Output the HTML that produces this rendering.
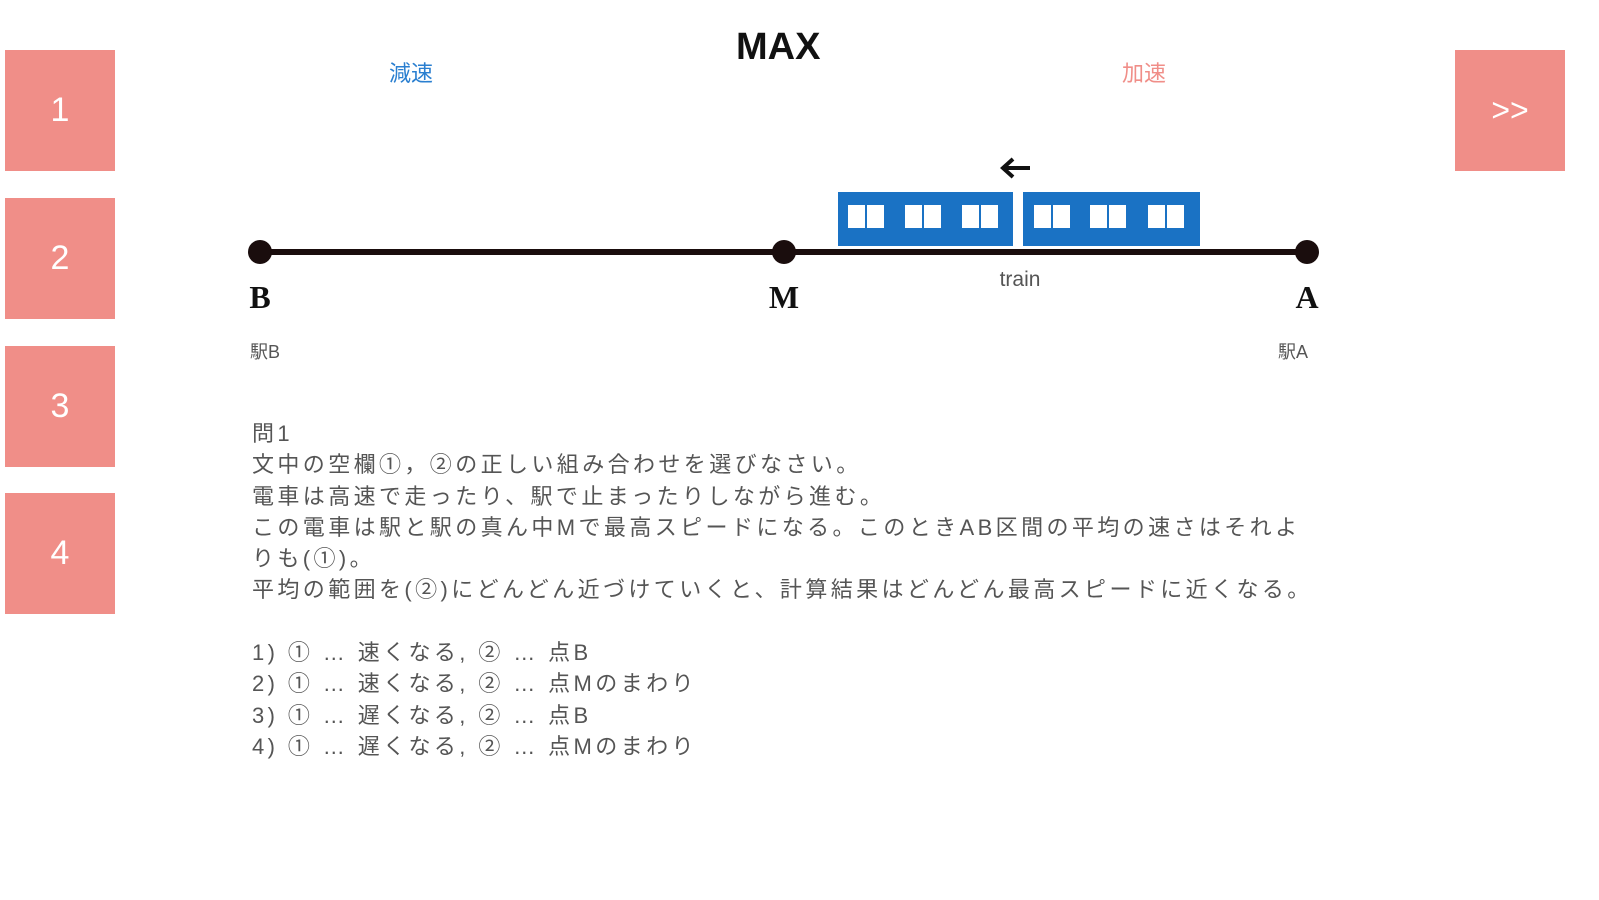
<!DOCTYPE html>
<html><head><meta charset="utf-8"><style>
body{margin:0;width:1599px;height:900px;background:#fff;position:relative;overflow:hidden;font-family:"Liberation Sans","Noto Sans CJK JP",sans-serif}
.b{position:absolute;left:5px;width:110px;height:121px;background:#f08e88;color:#fff;font-size:34px;display:flex;align-items:center;justify-content:center}
.t{position:absolute;white-space:nowrap}
.q{position:absolute;left:252px;top:418px;width:1090px;font-size:22px;letter-spacing:3.4px;line-height:31.3px;color:#555}
</style></head><body>
<div class="b" style="top:50px">1</div>
<div class="b" style="top:198px">2</div>
<div class="b" style="top:346px">3</div>
<div class="b" style="top:493px">4</div>
<div class="b" style="left:1455px;top:50px;font-size:32px">&gt;&gt;</div>
<div class="t" style="left:736px;top:26px;font-size:38px;font-weight:bold;color:#111">MAX</div>
<div class="t" style="left:389px;top:56px;font-size:22px;color:#2a7fd0">減速</div>
<div class="t" style="left:1122px;top:56px;font-size:22px;color:#f08e88">加速</div>
<svg style="position:absolute;left:0;top:0" width="1599" height="900">
<line x1="260" y1="252" x2="1307" y2="252" stroke="#1a0d0d" stroke-width="6"/>
<circle cx="260" cy="252" r="12" fill="#1a0d0d"/>
<circle cx="784" cy="252" r="12" fill="#1a0d0d"/>
<circle cx="1307" cy="252" r="12" fill="#1a0d0d"/>
<rect x="838" y="192" width="175" height="54" fill="#1a72c4"/>
<rect x="1023" y="192" width="177" height="54" fill="#1a72c4"/>
<g fill="#fff">
<rect x="848" y="205" width="17" height="23"/><rect x="867" y="205" width="17" height="23"/>
<rect x="905" y="205" width="17" height="23"/><rect x="924" y="205" width="17" height="23"/>
<rect x="962" y="205" width="17" height="23"/><rect x="981" y="205" width="17" height="23"/>
<rect x="1034" y="205" width="17" height="23"/><rect x="1053" y="205" width="17" height="23"/>
<rect x="1090" y="205" width="17" height="23"/><rect x="1109" y="205" width="17" height="23"/>
<rect x="1148" y="205" width="17" height="23"/><rect x="1167" y="205" width="17" height="23"/>
</g>
<line x1="1004" y1="168" x2="1030" y2="168" stroke="#111" stroke-width="4"/>
<polyline points="1013,159 1003,168 1013,177" fill="none" stroke="#111" stroke-width="4"/>
<text x="1020" y="286" font-size="21" fill="#555" text-anchor="middle" font-family="Liberation Sans">train</text>
<text x="260" y="308" font-size="32" font-weight="bold" fill="#111" text-anchor="middle" font-family="Liberation Serif">B</text>
<text x="784" y="308" font-size="32" font-weight="bold" fill="#111" text-anchor="middle" font-family="Liberation Serif">M</text>
<text x="1307" y="308" font-size="32" font-weight="bold" fill="#111" text-anchor="middle" font-family="Liberation Serif">A</text>
<text x="250" y="358" font-size="18" fill="#555" font-family="Liberation Sans,Noto Sans CJK JP,sans-serif">駅B</text>
<text x="1278" y="358" font-size="18" fill="#555" font-family="Liberation Sans,Noto Sans CJK JP,sans-serif">駅A</text>
</svg>
<div class="q">問1<br>文中の空欄①，②の正しい組み合わせを選びなさい。<br>電車は高速で走ったり、駅で止まったりしながら進む。<br>この電車は駅と駅の真ん中Mで最高スピードになる。このときAB区間の平均の速さはそれよ<br>りも(①)。<br>平均の範囲を(②)にどんどん近づけていくと、計算結果はどんどん最高スピードに近くなる。<br><br>1) ① … 速くなる, ② … 点B<br>2) ① … 速くなる, ② … 点Mのまわり<br>3) ① … 遅くなる, ② … 点B<br>4) ① … 遅くなる, ② … 点Mのまわり</div>
</body></html>
